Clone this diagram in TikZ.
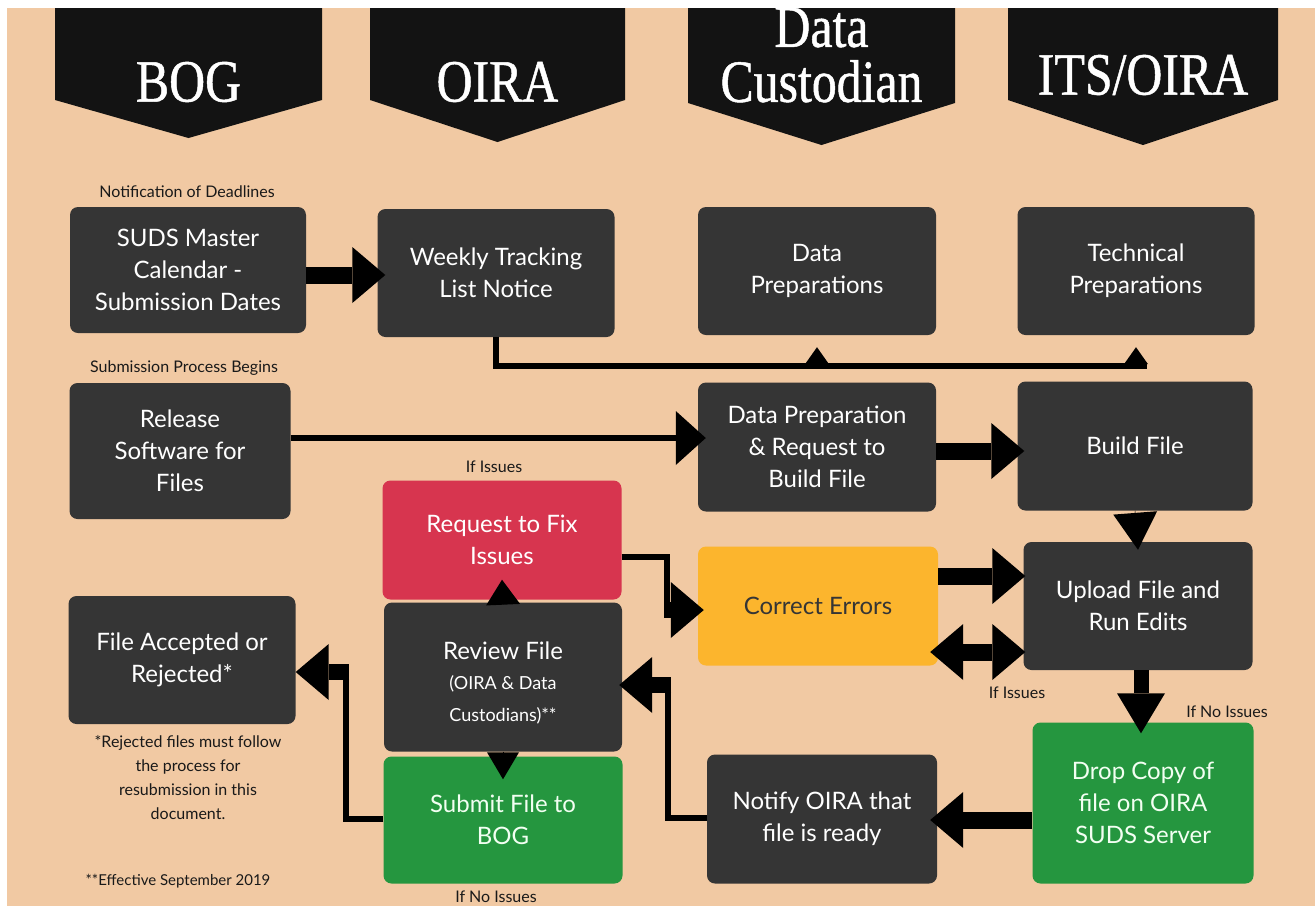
\documentclass[tikz,border=0pt]{standalone}
\usepackage{fontspec}
\setmainfont{Lato}
\newfontfamily\headfont[FakeStretch=0.83,FakeBold=0.8]{Liberation Serif}
\usetikzlibrary{arrows.meta}

\definecolor{peach}{HTML}{F1C9A3}
\definecolor{boxgray}{HTML}{353535}
\definecolor{headblack}{HTML}{131313}
\definecolor{fixred}{HTML}{D7354F}
\definecolor{erryellow}{HTML}{FCB52D}
\definecolor{okgreen}{HTML}{25963F}

\tikzset{
  lane/.style={text=white, align=center, font=\headfont\fontsize{60}{55}\selectfont},
  box/.style={rounded corners=8pt, fill=boxgray, text=white, align=center, inner sep=0pt,
    font=\fontsize{24}{32}\selectfont},
  note/.style={text=black!90, align=center, font=\fontsize{16}{24}\selectfont},
  fat/.style={line width=17pt, -{Triangle[length=33pt,width=56pt,line width=0pt]}},
  fatboth/.style={line width=17pt, {Triangle[length=33pt,width=56pt,line width=0pt]}-{Triangle[length=33pt,width=56pt,line width=0pt]}},
  fatdown/.style={line width=15pt, -{Triangle[length=40pt,width=48pt,line width=0pt]}},
  stub/.style={line width=16pt, -{Triangle[length=33pt,width=56pt,line width=0pt]}},
  thinline/.style={line width=6pt},
  thinarrow/.style={line width=6pt, -{Triangle[length=30pt,width=54pt,line width=0pt]}},
  tap/.style={line width=6pt, -{Triangle[length=17pt,width=24pt,line width=0pt]}, shorten >=12pt},
  notch/.style={line width=0.5pt, -{Triangle[length=25pt,width=34pt,line width=0pt]}}
}
\newcommand{\sublines}{\fontsize{18}{27}\selectfont}

\begin{document}
\begin{tikzpicture}[x=1pt, y=-1pt]
% canvas
\useasboundingbox (0,0) rectangle (1315,906);
\fill[peach] (7,8) rectangle (1315,906);

% lane headers
\foreach \xl/\xr/\ys/\yt/\yl/\lab in {55/322/100/138/82/BOG, 370/625/100/142/82/OIRA,
    688/955/103/145/55/{Data\\Custodian}, 1008/1278/100/145/75/{ITS/OIRA}}{
  \fill[headblack] (\xl,8) -- (\xr,8) -- (\xr,\ys) -- ({(\xl+\xr)/2},\yt) -- (\xl,\ys) -- cycle;
  \node[lane] at ({(\xl+\xr)/2},\yl) {\lab};
}
\fill[white] (0,0) rectangle (1315,8);

% top row
\node[box, minimum width=236pt, minimum height=126pt] (suds) at (188,270) {SUDS Master\\Calendar -\\Submission Dates};
\node[box, minimum width=237pt, minimum height=128pt] (weekly) at (496,273) {Weekly Tracking\\List Notice};
\node[box, minimum width=238pt, minimum height=128pt] (dataprep) at (817,271) {Data\\Preparations};
\node[box, minimum width=237pt, minimum height=128pt] (techprep) at (1136,271) {Technical\\Preparations};

% second row
\node[box, minimum width=221pt, minimum height=136pt] (release) at (180,451) {Release\\Software for\\Files};
\node[box, minimum width=238pt, minimum height=129pt] (request) at (817,447) {Data Preparation\\\& Request to\\Build File};
\node[box, minimum width=235pt, minimum height=129pt] (build) at (1135,446) {Build File};

% issue loop
\node[box, fill=fixred, minimum width=239pt, minimum height=119pt] (fix) at (502,540) {Request to Fix\\Issues};
\node[box, fill=erryellow, text=boxgray, minimum width=240pt, minimum height=119pt] (correct) at (818,606) {Correct Errors};
\node[box, minimum width=229pt, minimum height=128pt] (upload) at (1138,606) {Upload File and\\Run Edits};

% bottom rows
\node[box, minimum width=227pt, minimum height=128pt] (accepted) at (182,660) {File Accepted or\\Rejected*};
\node[box, minimum width=238pt, minimum height=149pt] (review) at (503,677) {\rule{0pt}{30pt}Review File\\[-2pt]\sublines(OIRA \& Data\\\sublines Custodians)**};
\node[box, fill=okgreen, text=green!5, minimum width=239pt, minimum height=127pt] (submit) at (503,820) {Submit File to\\BOG};
\node[box, minimum width=230pt, minimum height=129pt] (notify) at (822,819) {Notify OIRA that\\file is ready};
\node[box, fill=okgreen, text=green!5, minimum width=221pt, minimum height=161pt] (drop) at (1143,803) {Drop Copy of\\file on OIRA\\SUDS Server};

% notes
\node[note] (deadlines) at (187,192) {Notification of Deadlines};
\node[note] (begins) at (184,368) {Submission Process Begins};
\node[note] (issuesa) at (494,467) {If Issues};
\node[note] (issuesb) at (1017,693) {If Issues};
\node[note] (noissuesa) at (1227,712) {If No Issues};
\node[note] (noissuesb) at (496,897) {If No Issues};
\node[note] (rejected) at (188,778) {*Rejected files must follow\\the process for\\resubmission in this\\document.};
\node[note, font=\fontsize{15}{18}\selectfont] (effective) at (178,881) {**Effective September 2019};

% connectors
\coordinate (feed) at (1147,366);
\draw[fat, shorten >=-8pt] (suds.east |- 0,275) -- (weekly.west |- 0,275);
\draw[thinline] (weekly.south) |- (feed);
\draw[tap] (dataprep.south |- feed) -- (dataprep.south);
\draw[tap] (techprep.south |- feed) -- (techprep.south);

\draw[thinarrow, shorten >=-8pt] (release.east |- 0,438) -- (request.west |- 0,438);
\draw[fat, shorten >=-7pt] (request.east |- 0,451) -- (build.west |- 0,451);
\draw[notch, -{Triangle[length=37pt,width=44pt,line width=0pt]}] (build.south) -- ([yshift=-8pt]upload.north);

\draw[fat, shorten >=-2pt] (correct.east |- 0,576) -- (upload.west |- 0,576);
\draw[fatboth, shorten <=-2pt, shorten >=-8pt] (upload.west |- 0,652) -- (correct.east |- 0,652);
\draw[fatdown, shorten >=-11pt] (upload.south -| 1141,0) -- (drop.north -| 1141,0);
\draw[fat, shorten >=-7pt] (drop.west |- 0,820) -- (notify.east |- 0,820);

\coordinate (bendnotify) at (668,685);
\draw[thinline] (notify.west |- 0,818) -| (bendnotify);
\draw[stub, shorten <=-3pt, shorten >=-3pt] (bendnotify) -- (review.east |- bendnotify);

\coordinate (bendsubmit) at (346,672);
\draw[thinline] (submit.west |- 0,819) -| (bendsubmit);
\draw[stub, shorten <=-3pt] (bendsubmit) -- (accepted.east |- bendsubmit);

\coordinate (bendfix) at (667,610);
\draw[thinline] (fix.east |- 0,557) -| (bendfix);
\draw[stub, shorten <=-3pt, shorten >=-6pt] (bendfix) -- (correct.west |- bendfix);

\draw[notch] (review.north) -- ([yshift=20pt]fix.south);
\draw[notch, -{Triangle[length=27pt,width=32pt,line width=0pt]}] (review.south) -- ([yshift=-23pt]submit.north);
\end{tikzpicture}
\end{document}
